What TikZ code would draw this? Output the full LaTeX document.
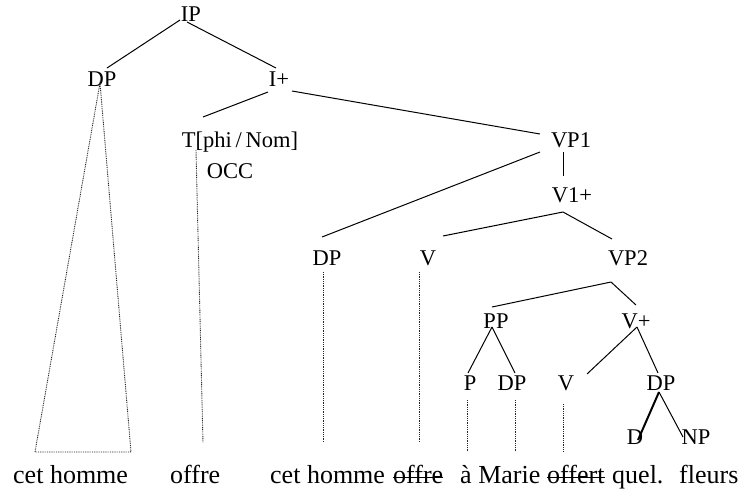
\documentclass[tikz,border=0pt]{standalone}
\usepackage{fontspec}
\setmainfont{Liberation Serif}
\begin{document}
\begin{tikzpicture}[x=1pt,y=-1pt,
  lab/.style={inner sep=0pt,anchor=base,font=\fontsize{22.5}{26}\selectfont},
  word/.style={inner sep=0pt,anchor=base west,font=\fontsize{26}{30}\selectfont},
  br/.style={line width=1pt},
  dots/.style={line width=0.9pt,black!85,dash pattern=on 0.9pt off 0.9pt}]
\useasboundingbox (0,0) rectangle (741,491);
% labels
\node[lab] (IP) at (191,21) {IP};
\node[lab] (DPa) at (102,86) {DP};
\node[lab] (Ip) at (279,86) {I+};
\node[lab] (T) at (240,147) {T[phi\,/\,Nom]};
\node[lab] (OCC) at (230,178) {OCC};
\node[lab] (VPa) at (571,147) {VP1};
\node[lab] (Vap) at (572,202) {V1+};
\node[lab] (DPb) at (327,265) {DP};
\node[lab] (Va) at (428,265) {V};
\node[lab] (VPb) at (628,265) {VP2};
\node[lab] (PP) at (496,328) {PP};
\node[lab] (Vp) at (636,328) {V+};
\node[lab] (P) at (470,390) {P};
\node[lab] (DPc) at (512,390) {DP};
\node[lab] (Vb) at (566,390) {V};
\node[lab] (DPd) at (661,390) {DP};
\node[lab] (D) at (635,444) {D};
\node[lab] (NP) at (696,444) {NP};
% words
\node[word] (w1) at (13,483) {cet homme};
\node[word] (w2) at (170,483) {offre};
\node[word] (w3) at (270,483) {cet homme};
\node[word] (w4) at (393,483) {offre};
\node[word] (w5) at (460,483) {à Marie};
\node[word] (w6) at (547,483) {offert};
\node[word] (w7) at (612,483) {quel.};
\node[word] (w8) at (679,483) {fleurs};
\draw[line width=1pt] ([yshift=6pt]w4.base west) -- ([yshift=6pt]w4.base east);
\draw[line width=1pt] ([yshift=6pt]w6.base west) -- ([yshift=6pt]w6.base east);
% branches
\draw[br] ([shift={(-11,-1)}]IP.base) -- ([shift={(5,-18)}]DPa.base);
\draw[br] ([shift={(-4,1)}]IP.base) -- ([shift={(-3,-18)}]Ip.base);
\draw[br] ([shift={(-11,6)}]Ip.base) -- ([shift={(-37,-30)}]T.base);
\draw[br] ([shift={(13,5)}]Ip.base) -- ([shift={(-31,-13)}]VPa.base);
\draw[br] ([shift={(-31,5)}]VPa.base) -- ([shift={(-5,-28)}]DPb.base);
\draw[br] ([shift={(-8,5)}]VPa.base) -- ([shift={(-9,-26)}]Vap.base);
\draw[br] ([shift={(-9,10)}]Vap.base) -- ([shift={(15,-29)}]Va.base);
\draw[br] ([shift={(-9,10)}]Vap.base) -- ([shift={(-16,-26)}]VPb.base);
\draw[br] ([shift={(-17,17)}]VPb.base) -- ([shift={(-4,-21)}]PP.base);
\draw[br] ([shift={(-17,17)}]VPb.base) -- ([shift={(0,-23)}]Vp.base);
\draw[br] ([shift={(-4,-1)}]PP.base) -- ([shift={(-2,-17)}]P.base);
\draw[br] ([shift={(-4,-1)}]PP.base) -- ([shift={(3,-17)}]DPc.base);
\draw[br] ([shift={(1,-1)}]Vp.base) -- ([shift={(21,-16)}]Vb.base);
\draw[br] ([shift={(1,-1)}]Vp.base) -- ([shift={(-3,-17)}]DPd.base);
\draw[line width=2pt] ([shift={(-2,2)}]DPd.base) -- ([shift={(3,-4)}]D.base);
\draw[br] ([shift={(-2,2)}]DPd.base) -- ([shift={(-13,-7)}]NP.base);
% dotted links
\draw[dots] ([shift={(22,-31)}]w1.base west) -- ([shift={(-2,-3)}]DPa.base) -- ([shift={(118,-31)}]w1.base west) -- cycle;
\draw[dots] ([shift={(-44,3)}]T.base) -- ([shift={(33,-40)}]w2.base west);
\draw[dots] ([shift={(-4,7)}]DPb.base) -- ([shift={(53,-41)}]w3.base west);
\draw[dots] ([shift={(-9,7)}]Va.base) -- ([shift={(26,-41)}]w4.base west);
\draw[dots] ([shift={(-3,10)}]P.base) -- ([shift={(7,-31)}]w5.base west);
\draw[dots] ([shift={(3,10)}]DPc.base) -- ([shift={(55,-31)}]w5.base west);
\draw[dots] ([shift={(-3,14)}]Vb.base) -- ([shift={(16,-31)}]w6.base west);
\end{tikzpicture}
\end{document}
